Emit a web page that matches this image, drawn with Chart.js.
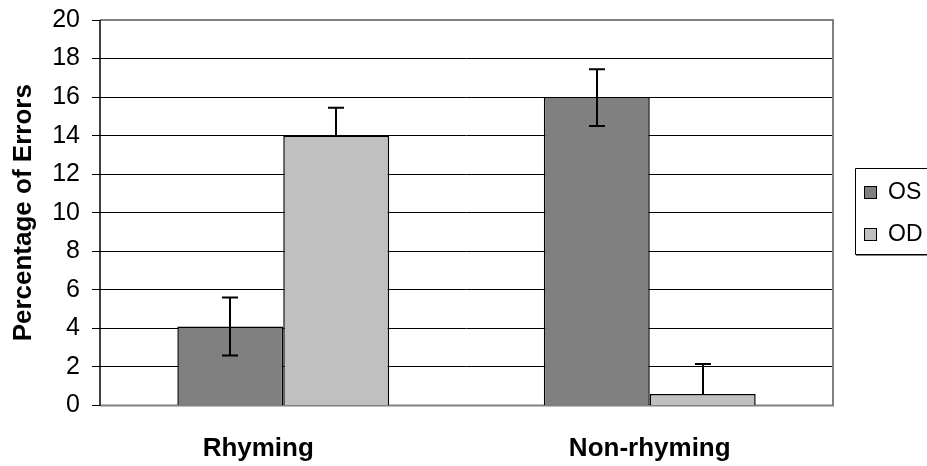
<!DOCTYPE html>
<html>
<head>
<meta charset="utf-8">
<script src="https://cdn.jsdelivr.net/npm/chart.js@4/dist/chart.umd.min.js"></script>
<style>
  html, body { margin: 0; padding: 0; background: #fff; }
  #wrap { width: 927px; height: 466px; }
</style>
</head>
<body>
<div id="wrap"><canvas id="c" width="927" height="466"></canvas></div>
<script>
// Error percentages by condition
const categories = ['Rhyming', 'Non-rhyming'];
const seriesNames = ['OS', 'OD'];
const osValues = [4.1, 16.0];
const odValues = [14.0, 0.6];
const osErrUp = [1.5, 1.45];
const osErrDown = [1.5, 1.5];
const odErrUp = [1.45, 1.55];
const odErrDown = [0, 0];
const yTicks = [0, 2, 4, 6, 8, 10, 12, 14, 16, 18, 20];

const FONT = 'Liberation Sans, Arial, sans-serif';
// horizontal nudge of each category label, in px
const LABEL_SHIFT = [-25, 0];

// Draws the +/- error whiskers over each bar
const errorBars = {
  id: 'errorBars',
  afterDatasetsDraw(chart) {
    const ctx = chart.ctx;
    const y = chart.scales.y;
    ctx.save();
    ctx.strokeStyle = '#000';
    ctx.lineWidth = 2;
    chart.data.datasets.forEach((ds, di) => {
      const meta = chart.getDatasetMeta(di);
      meta.data.forEach((bar, i) => {
        const v = ds.data[i];
        const up = ds.errUp[i], dn = ds.errDown[i];
        const x = Math.round(bar.x);
        const yTop = y.getPixelForValue(v + up);
        const yBot = y.getPixelForValue(v - dn);
        const yVal = y.getPixelForValue(v);
        ctx.beginPath();
        ctx.moveTo(x, up > 0 ? yTop : yVal);
        ctx.lineTo(x, dn > 0 ? yBot : yVal);
        if (up > 0) { ctx.moveTo(x - 8, yTop); ctx.lineTo(x + 8, yTop); }
        if (dn > 0) { ctx.moveTo(x - 8, yBot); ctx.lineTo(x + 8, yBot); }
        ctx.stroke();
      });
    });
    ctx.restore();
  }
};

// Plot frame, category labels and the boxed legend on the right
const frame = {
  id: 'frame',
  beforeDatasetsDraw(chart) {
    const { ctx, chartArea: a } = chart;
    ctx.save();
    ctx.strokeStyle = '#808080';
    ctx.lineWidth = 2;
    ctx.beginPath();
    ctx.moveTo(a.left, a.top);
    ctx.lineTo(a.right, a.top);
    ctx.lineTo(a.right, a.bottom);
    ctx.lineTo(a.left, a.bottom);
    ctx.stroke();
    ctx.strokeStyle = '#000';
    ctx.lineWidth = 1.5;
    ctx.beginPath();
    ctx.moveTo(a.left, a.top);
    ctx.lineTo(a.left, a.bottom);
    ctx.stroke();
    ctx.restore();
  },
  afterDraw(chart) {
    const ctx = chart.ctx;
    const xs = chart.scales.x;
    ctx.save();
    // category labels
    ctx.fillStyle = '#000';
    ctx.font = 'bold 26px ' + FONT;
    ctx.textAlign = 'center';
    ctx.textBaseline = 'middle';
    chart.data.labels.forEach((lab, i) => {
      ctx.fillText(lab, xs.getPixelForTick(i) + LABEL_SHIFT[i], chart.chartArea.bottom + 43);
    });
    // legend
    ctx.fillStyle = '#fff';
    ctx.fillRect(855.5, 168.5, 80, 86);
    ctx.strokeStyle = '#000';
    ctx.lineWidth = 1;
    ctx.beginPath();
    ctx.moveTo(927, 168.5);
    ctx.lineTo(855.5, 168.5);
    ctx.lineTo(855.5, 254.5);
    ctx.lineTo(927, 254.5);
    ctx.stroke();
    ctx.strokeStyle = '#808080';
    ctx.beginPath();
    ctx.moveTo(856, 255.5);
    ctx.lineTo(927, 255.5);
    ctx.stroke();
    const rows = [192, 234];
    chart.data.datasets.forEach((ds, i) => {
      const cy = rows[i];
      ctx.fillStyle = ds.backgroundColor;
      ctx.fillRect(865, cy - 5, 11, 11);
      ctx.strokeStyle = '#000';
      ctx.lineWidth = 1;
      ctx.strokeRect(864.5, cy - 5.5, 12, 12);
      ctx.fillStyle = '#000';
      ctx.font = '23px ' + FONT;
      ctx.textBaseline = 'middle';
      ctx.textAlign = 'left';
      ctx.fillText(ds.label, 888, cy + 1);
    });
    ctx.restore();
  }
};

new Chart(document.getElementById('c'), {
  type: 'bar',
  data: {
    labels: categories,
    datasets: [
      { label: seriesNames[0], data: osValues, errUp: osErrUp, errDown: osErrDown,
        backgroundColor: '#808080', borderColor: '#000', borderWidth: 1.5 },
      { label: seriesNames[1], data: odValues, errUp: odErrUp, errDown: odErrDown,
        backgroundColor: '#C0C0C0', borderColor: '#000', borderWidth: 1.5 }
    ]
  },
  options: {
    responsive: false,
    animation: false,
    devicePixelRatio: 1,
    layout: { padding: { top: 20, right: 94, left: 0, bottom: 0 } },
    datasets: { bar: { barPercentage: 1.0, categoryPercentage: 0.578 } },
    plugins: { legend: { display: false }, tooltip: { enabled: false } },
    scales: {
      x: {
        grid: { display: false, drawTicks: false },
        border: { display: false },
        ticks: { display: false },
        afterFit(s) { s.height = 60.5; s.paddingLeft = 0; s.paddingRight = 0; }
      },
      y: {
        min: 0, max: 20,
        afterBuildTicks(s) { s.ticks = yTicks.map(v => ({ value: v })); },
        grid: { color: '#000', lineWidth: 1, tickLength: 8, drawTicks: true,
                tickColor: '#000' },
        border: { display: false },
        ticks: { color: '#000', font: { family: FONT, size: 25 }, padding: 12 },
        title: { display: true, text: 'Percentage of Errors', color: '#000',
                 font: { family: FONT, size: 26, weight: 'bold' }, padding: { top: 8, bottom: 0 } },
        afterFit(s) { s.width = 100; s.paddingTop = 0; s.paddingBottom = 0; }
      }
    }
  },
  plugins: [frame, errorBars]
});
</script>
</body>
</html>
